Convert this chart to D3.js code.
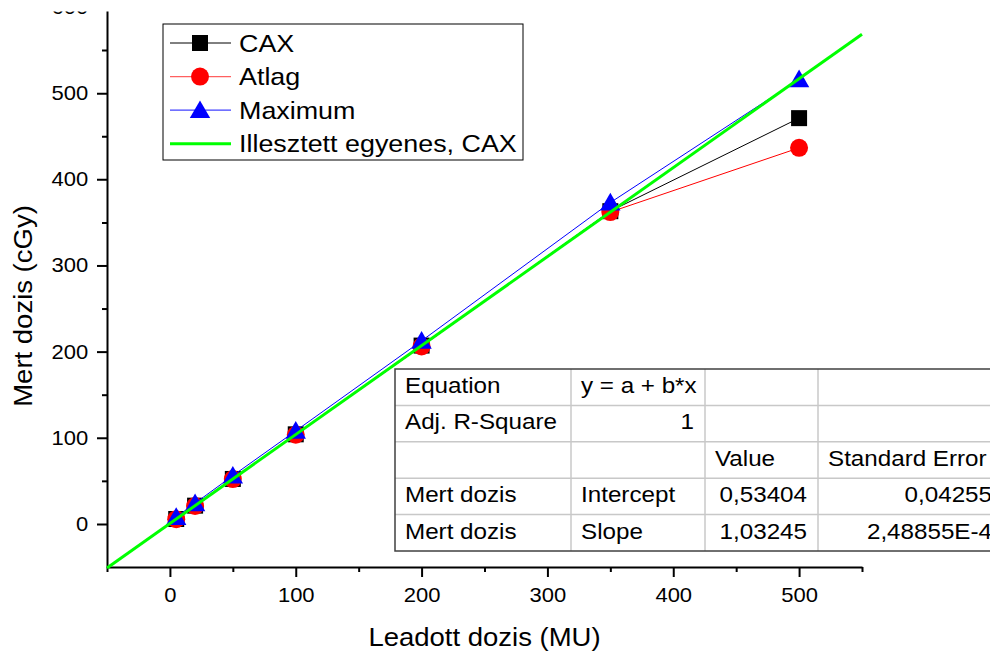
<!DOCTYPE html>
<html>
<head>
<meta charset="utf-8">
<script src="https://cdn.jsdelivr.net/npm/d3@7"></script>
<style>
  html, body { margin: 0; padding: 0; background: #fff; }
  svg { display: block; font-family: "Liberation Sans", Arial, sans-serif; }
</style>
</head>
<body>
<svg id="chart" width="990" height="652"></svg>
<script>
// Delivered dose (MU) vs measured dose (cGy)
const doses   = [5, 20, 50, 100, 200, 350, 500];
const cax     = [5.7, 21.2, 52.2, 104, 207, 363, 471];
const atlag   = [5.5, 20.8, 52, 103.5, 206, 362, 436.5];
const maximum = [8, 24, 56, 108, 212.5, 373, 516];

// Linear fit of the CAX series
const fitIntercept = 0.53404;
const fitSlope = 1.03245;
const fitRange = [-50, 550];

const xDomain = [-50, 550];
const yDomain = [-50, 600];
const xMajor = [0, 100, 200, 300, 400, 500];
const xMinor = [-50, 50, 150, 250, 350, 450, 550];
const yMajor = [0, 100, 200, 300, 400, 500, 600];
const yMinor = [50, 150, 250, 350, 450, 550];

const legendLabels = ["CAX", "Atlag", "Maximum", "Illesztett egyenes, CAX"];

const tableRows = [
  ["Equation", "y = a + b*x", "", ""],
  ["Adj. R-Square", "1", "", ""],
  ["", "", "Value", "Standard Error"],
  ["Mert dozis", "Intercept", "0,53404", "0,04255"],
  ["Mert dozis", "Slope", "1,03245", "2,48855E-4"]
];

const svg = d3.select("#chart");
const x = d3.scaleLinear().domain(xDomain).range([107, 862]);
const y = d3.scaleLinear().domain(yDomain).range([567, 7]);
const stretch = "scale(1.1,1)";

// ---- axes ----
svg.append("clipPath").attr("id", "yclip")
  .append("rect").attr("x", -200).attr("y", 11.5).attr("width", 400).attr("height", 640);

function styleAxis(g) {
  g.selectAll("path, line").attr("stroke", "#000").attr("stroke-width", 2);
}

const xAxisG = svg.append("g").attr("transform", `translate(0,${y(yDomain[0])})`);
xAxisG.append("g")
  .call(d3.axisBottom(x).tickValues(xMinor).tickSize(5).tickSizeOuter(0).tickFormat(""))
  .call(styleAxis);
xAxisG.append("g")
  .call(d3.axisBottom(x).tickValues(xMajor).tickSize(10).tickSizeOuter(0).tickPadding(11).tickFormat(d3.format("d")))
  .call(styleAxis)
  .call(g => g.select(".domain").remove())
  .call(g => g.selectAll("text").attr("font-size", 20).attr("fill", "#000")
    .attr("font-family", "Liberation Sans, Arial, sans-serif").attr("transform", stretch));

const yAxisG = svg.append("g").attr("transform", `translate(${x(xDomain[0])},0)`)
  .attr("clip-path", "url(#yclip)");
yAxisG.append("g")
  .call(d3.axisLeft(y).tickValues(yMinor).tickSize(5).tickSizeOuter(0).tickFormat(""))
  .call(styleAxis);
yAxisG.append("g")
  .call(d3.axisLeft(y).tickValues(yMajor).tickSize(10).tickSizeOuter(0).tickPadding(7).tickFormat(d3.format("d")))
  .call(styleAxis)
  .call(g => g.select(".domain").remove())
  .call(g => g.selectAll("text").attr("font-size", 20).attr("fill", "#000")
    .attr("font-family", "Liberation Sans, Arial, sans-serif").attr("transform", stretch));

// axis titles
svg.append("g").attr("transform", `translate(${(x(xDomain[0]) + x(xDomain[1])) / 2},646)`)
  .append("text").attr("text-anchor", "middle").attr("font-size", 25).attr("transform", stretch)
  .text("Leadott dozis (MU)");
svg.append("g").attr("transform", "translate(32,306) rotate(-90)")
  .append("text").attr("text-anchor", "middle").attr("font-size", 25).attr("transform", stretch)
  .text("Mert dozis (cGy)");

// ---- symbols ----
const sqSym = d3.symbol().type(d3.symbolSquare).size(256);
const triSym = d3.symbol().type(d3.symbolTriangle).size(180);
const cirSym = d3.symbol().type(d3.symbolCircle).size(Math.PI * 81);

const series = [
  { name: legendLabels[0], values: cax,     color: "#000000", sym: sqSym,  dy: 0 },
  { name: legendLabels[1], values: atlag,   color: "#ff0000", sym: cirSym, dy: 0 },
  { name: legendLabels[2], values: maximum, color: "#0000ff", sym: triSym, dy: 2 }
];

const line = d3.line().x(d => x(d[0])).y(d => y(d[1]));
const plot = svg.append("g");

series.forEach(s => {
  const pts = doses.map((d, i) => [d, s.values[i]]);
  plot.append("path").datum(pts).attr("d", line)
    .attr("fill", "none").attr("stroke", s.color).attr("stroke-width", 1);
  plot.selectAll(null).data(pts).enter().append("path")
    .attr("d", s.sym)
    .attr("transform", d => `translate(${x(d[0])},${y(d[1]) + s.dy})`)
    .attr("fill", s.color);
});

// fitted line
const fitPts = fitRange.map(v => [v, fitIntercept + fitSlope * v]);
plot.append("path").datum(fitPts).attr("d", line)
  .attr("fill", "none").attr("stroke", "#00ff00").attr("stroke-width", 3);

// ---- legend ----
const legend = svg.append("g").attr("transform", "translate(163,24)");
legend.append("rect").attr("width", 360).attr("height", 136)
  .attr("fill", "#fff").attr("stroke", "#000").attr("stroke-width", 1);
const legendItems = [
  { label: legendLabels[0], color: "#000000", sym: sqSym, sw: 1, dy: 0 },
  { label: legendLabels[1], color: "#ff6060", mark: "#ff0000", sym: cirSym, sw: 1.2, dy: 0 },
  { label: legendLabels[2], color: "#4040ff", mark: "#0000ff", sym: triSym, sw: 1.2, dy: 2 },
  { label: legendLabels[3], color: "#00ff00", sym: null, sw: 3, dy: 0 }
];
legendItems.forEach((it, i) => {
  const row = legend.append("g").attr("transform", `translate(0,${19 + i * 33.6})`);
  row.append("line").attr("x1", 7).attr("x2", 68).attr("y1", 0).attr("y2", 0)
    .attr("stroke", it.color).attr("stroke-width", it.sw);
  if (it.sym) {
    row.append("path").attr("d", it.sym).attr("transform", `translate(37,${it.dy})`)
      .attr("fill", it.mark || it.color);
  }
  row.append("g").attr("transform", "translate(76,8.5)")
    .append("text").attr("font-size", 24).attr("transform", "scale(1.12,1)").text(it.label);
});

// ---- fit results table ----
const colEdges = [395, 571, 705, 818, 1003];
const tableTop = 369, rowH = 36.4;
const tbl = svg.append("g");
tbl.append("rect").attr("x", colEdges[0]).attr("y", tableTop)
  .attr("width", colEdges[4] - colEdges[0]).attr("height", rowH * tableRows.length)
  .attr("fill", "#fff");
// inner grid
for (let r = 1; r < tableRows.length; r++) {
  tbl.append("line").attr("x1", colEdges[0]).attr("x2", colEdges[4])
    .attr("y1", tableTop + r * rowH).attr("y2", tableTop + r * rowH)
    .attr("stroke", "#c8c8c8").attr("stroke-width", 1.5);
}
for (let c = 1; c < colEdges.length - 1; c++) {
  tbl.append("line").attr("x1", colEdges[c]).attr("x2", colEdges[c])
    .attr("y1", tableTop).attr("y2", tableTop + rowH * tableRows.length)
    .attr("stroke", "#c8c8c8").attr("stroke-width", 1.5);
}
tbl.append("rect").attr("x", colEdges[0]).attr("y", tableTop)
  .attr("width", colEdges[4] - colEdges[0]).attr("height", rowH * tableRows.length)
  .attr("fill", "none").attr("stroke", "#404040").attr("stroke-width", 1.5);

const isNum = s => /^[\d,.E\-]+$/.test(s);
tableRows.forEach((row, r) => {
  row.forEach((txt, c) => {
    if (!txt) return;
    const right = isNum(txt);
    tbl.append("g")
      .attr("transform", `translate(${right ? colEdges[c + 1] - 11 : colEdges[c] + 10},${tableTop + r * rowH + 24})`)
      .append("text")
      .attr("text-anchor", right ? "end" : "start")
      .attr("font-size", 22).attr("fill", "#000")
      .attr("transform", stretch)
      .text(txt);
  });
});
</script>
</body>
</html>
